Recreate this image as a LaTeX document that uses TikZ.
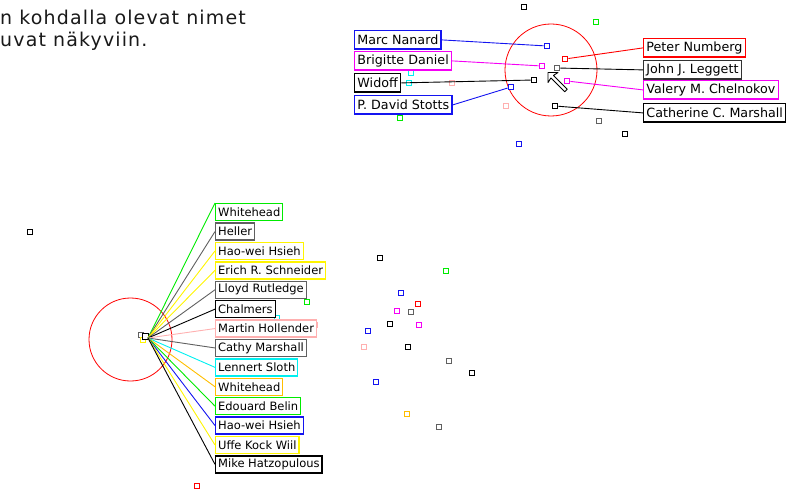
\documentclass[tikz,border=0pt]{standalone}
\usepackage{fontspec}
\setmainfont{DejaVu Sans}
\newfontfamily\headfont[LetterSpace=6]{DejaVu Sans}
\definecolor{mygray}{RGB}{96,96,96}
\definecolor{mydark}{RGB}{50,50,50}
\definecolor{mygreen}{RGB}{0,235,0}
\definecolor{myyellow}{RGB}{255,245,0}
\definecolor{mycyan}{RGB}{0,240,240}
\definecolor{mypink}{RGB}{255,176,176}
\definecolor{myorange}{RGB}{255,190,0}
\definecolor{myblue}{RGB}{20,20,240}
\definecolor{mymagenta}{RGB}{245,0,245}
\begin{document}
\begin{tikzpicture}[x=1pt,y=-1pt,
  lbl/.style={draw=#1,fill=white,line width=1.3pt,inner xsep=2.5pt,inner ysep=0pt,
    minimum height=17pt,anchor=north west,text=black,font=\fontsize{11.5}{13}\selectfont},
  toplbl/.style={lbl=#1,minimum height=18.5pt,inner xsep=2.8pt,font=\fontsize{12.7}{14}\selectfont},
  sq/.style={draw=#1,fill=white,line width=1.2pt,minimum size=5.5pt,inner sep=0pt},
  link/.style={draw=#1,line width=0.9pt}]
\useasboundingbox (0,0) rectangle (787,492);
\node[anchor=base west,inner sep=0pt,text=black!90,font=\headfont\fontsize{19}{22}\selectfont] (head1) at (0,25) {n kohdalla olevat nimet};
\node[anchor=base west,inner sep=0pt,text=black!90,font=\headfont\fontsize{19}{22}\selectfont] (head2) at (0,47) {uvat näkyviin.};

\draw[red,line width=0.8pt] (551,70) circle[radius=46];
\node[sq=black] (s1) at (524,7) {};
\node[sq=mygreen] (s2) at (596,22) {};
\node[sq=myblue] (nanard-s) at (547,46) {};
\node[sq=red] (numberg-s) at (565,59) {};
\node[sq=mymagenta] (daniel-s) at (542,66) {};
\node[sq=mygray] (leggett-s) at (557,68) {};
\node[sq=black] (widoff-s) at (534,80) {};
\node[sq=mymagenta] (chelnokov-s) at (567,81) {};
\node[sq=myblue] (stotts-s) at (511,87) {};
\node[sq=black] (marshall-s) at (555,106) {};
\node[sq=mycyan] (s3) at (411,73) {};
\node[sq=mycyan] (s4) at (409,83) {};
\node[sq=mypink] (s5) at (452,83) {};
\node[sq=mypink] (s6) at (506,106) {};
\node[sq=mygreen] (s7) at (400,118) {};
\node[sq=mygray] (s8) at (599,121) {};
\node[sq=black] (s9) at (625,134) {};
\node[sq=myblue] (s10) at (519,144) {};

\node[toplbl=myblue] (nanard) at (354,30) {Marc Nanard};
\node[toplbl=mymagenta] (daniel) at (354,51) {Brigitte Daniel};
\node[toplbl=black] (widoff) at (354,73) {Widoff};
\node[toplbl=myblue] (stotts) at (354,95) {P. David Stotts};
\node[toplbl=red] (numberg) at (643,38) {Peter Numberg};
\node[toplbl=mydark] (leggett) at (643,60) {John J. Leggett};
\node[toplbl=mymagenta] (chelnokov) at (643,80) {Valery M. Chelnokov};
\node[toplbl=black] (marshall) at (643,103) {Catherine C. Marshall};
\draw[link=myblue] (nanard.east) -- (nanard-s);
\draw[link=mymagenta] (daniel.east) -- (daniel-s);
\draw[link=black] (widoff.east) -- (widoff-s);
\draw[link=myblue] (stotts.east) -- (stotts-s);
\draw[link=red] (numberg.west) -- (numberg-s);
\draw[link=black] (leggett.west) -- (leggett-s);
\draw[link=mymagenta] (chelnokov.west) -- (chelnokov-s);
\draw[link=black] (marshall.west) -- (marshall-s);
\draw[fill=white,line width=0.9pt,line join=round] (548,72.5) -- (558,72.5) -- (553.5,75.4) -- (567.3,89.2)
  -- (564.7,91.8) -- (550.9,78) -- (548,82.5) -- cycle;

\draw[red,line width=0.8pt] (130.5,339.5) circle[radius=41.5];
\node[sq=black] (t1) at (30,232) {};
\node[sq=mygreen] (t2) at (307,302) {};
\node[sq=mycyan] (t3) at (277,318) {};
\node[sq=mypink] (t4) at (315,325) {};
\node[sq=red] (t5) at (197,486) {};
\node[sq=black] (t6) at (380,258) {};
\node[sq=mygreen] (t7) at (446,271) {};
\node[sq=myblue] (t8) at (401,293) {};
\node[sq=red] (t9) at (418,304) {};
\node[sq=mymagenta] (t10) at (397,311) {};
\node[sq=mygray] (t11) at (411,312) {};
\node[sq=black] (t12) at (390,324) {};
\node[sq=mymagenta] (t13) at (419,325) {};
\node[sq=myblue] (t14) at (368,331) {};
\node[sq=mypink] (t15) at (364,347) {};
\node[sq=black] (t16) at (408,347) {};
\node[sq=mygray] (t17) at (449,361) {};
\node[sq=black] (t18) at (472,373) {};
\node[sq=myblue] (t19) at (376,382) {};
\node[sq=myorange] (t20) at (407,414) {};
\node[sq=mygray] (t21) at (439,427) {};
\node[sq=mygray] (c1) at (141,335) {};
\node[sq=myyellow] (c2) at (143,340) {};
\node[sq=black] (c3) at (145.5,336.5) {};
\coordinate (hub) at (148,338);

\node[lbl=mygreen] (whitehead) at (215,203) {Whitehead};
\node[lbl=mygray] (heller) at (215,222.4) {Heller};
\node[lbl=myyellow] (hsieh) at (215,241.8) {Hao-wei Hsieh};
\node[lbl=myyellow] (schneider) at (215,261.2) {Erich R. Schneider};
\node[lbl=mygray] (rutledge) at (215,280.6) {Lloyd Rutledge};
\node[lbl=black] (chalmers) at (215,300) {Chalmers};
\node[lbl=mypink] (hollender) at (215,319.4) {Martin Hollender};
\node[lbl=mygray] (cathy) at (215,338.8) {Cathy Marshall};
\node[lbl=mycyan] (sloth) at (215,358.2) {Lennert Sloth};
\node[lbl=myorange] (whitehead2) at (215,377.6) {Whitehead};
\node[lbl=mygreen] (belin) at (215,397) {Edouard Belin};
\node[lbl=myblue] (hsieh2) at (215,416.4) {Hao-wei Hsieh};
\node[lbl=myyellow] (wiil) at (215,435.8) {Uffe Kock Wiil};
\node[lbl=black] (hatzopulous) at (215,455.2) {Mike Hatzopulous};
\draw[link=mygreen] (hub) -- (whitehead.north west);
\draw[link=mygray] (hub) -- (heller.west);
\draw[link=myyellow] (hub) -- (hsieh.west);
\draw[link=myyellow] (hub) -- (schneider.west);
\draw[link=mygray] (hub) -- (rutledge.west);
\draw[link=black] (hub) -- (chalmers.west);
\draw[link=mypink] (hub) -- (hollender.west);
\draw[link=mygray] (hub) -- (cathy.west);
\draw[link=mycyan] (hub) -- (sloth.west);
\draw[link=myorange] (hub) -- (whitehead2.west);
\draw[link=mygreen] (hub) -- (belin.west);
\draw[link=myblue] (hub) -- (hsieh2.west);
\draw[link=myyellow] (hub) -- (wiil.west);
\draw[link=black] (hub) -- (hatzopulous.west);
\end{tikzpicture}
\end{document}
